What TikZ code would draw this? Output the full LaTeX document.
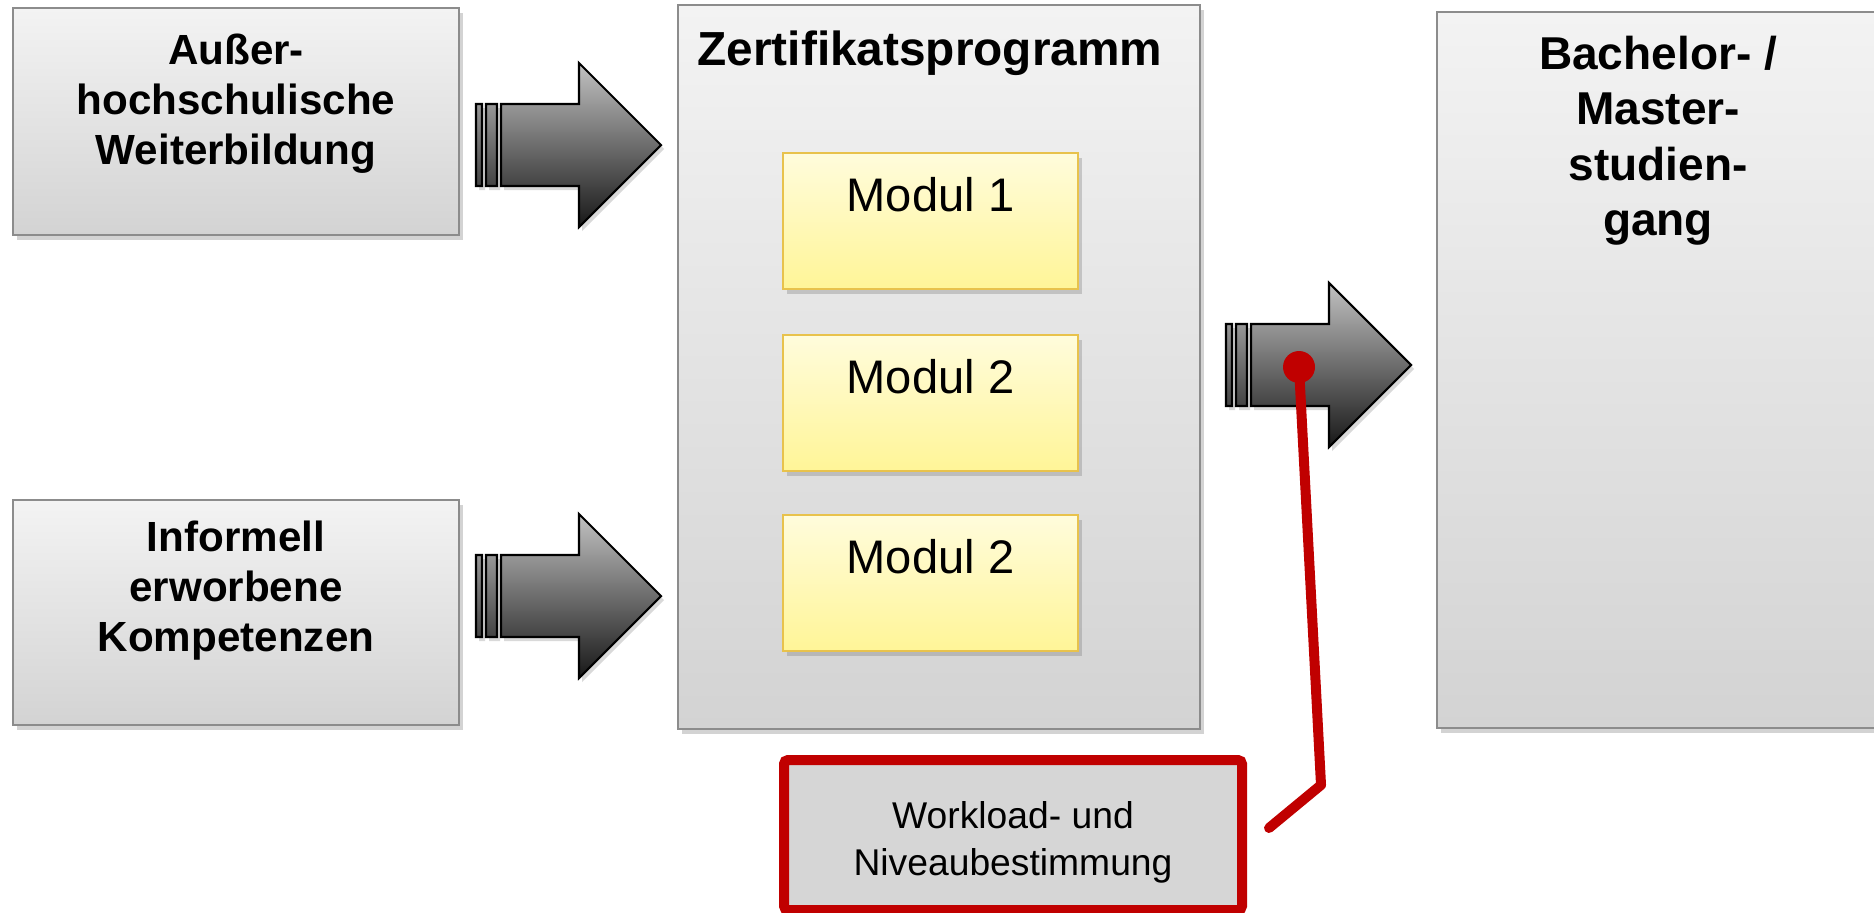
\documentclass[tikz,border=0pt]{standalone}
\usepackage{fontspec}
\setmainfont{Liberation Sans}
\usetikzlibrary{positioning,shadows,calc}

\definecolor{boxrand}{HTML}{8C8C8C}
\definecolor{grauoben}{HTML}{F3F3F3}
\definecolor{grauunten}{HTML}{D3D3D3}
\definecolor{gelboben}{HTML}{FFFCDC}
\definecolor{gelbunten}{HTML}{FFF597}
\definecolor{gelbrand}{HTML}{E8C24C}
\definecolor{pfeilhell}{HTML}{C2C2C2}
\definecolor{pfeildunkel}{HTML}{181818}
\definecolor{dunkelrot}{HTML}{C00000}
\definecolor{workgrau}{HTML}{D6D6D6}

\tikzset{
    schatten/.style={drop shadow={shadow xshift=0.035cm, shadow yshift=-0.045cm, opacity=0.35}},
    graubox/.style={draw=boxrand, line width=0.7pt, top color=grauoben, bottom color=grauunten,
        schatten, anchor=north west, inner sep=0, outer sep=0},
    modulbox/.style={draw=gelbrand, line width=0.8pt, top color=gelboben, bottom color=gelbunten,
        schatten, anchor=north west, inner sep=0, outer sep=0,
        minimum width=2.95cm, minimum height=1.36cm},
    titel/.style={font=\bfseries\fontsize{12}{14.2}\selectfont, align=center, inner sep=0, outer sep=0},
    modultext/.style={font=\fontsize{13.4}{16}\selectfont, inner sep=0, outer sep=0},
    pfeilstil/.style={draw=black, line width=0.6pt, top color=pfeilhell, bottom color=pfeildunkel,
        drop shadow={shadow xshift=0.03cm, shadow yshift=-0.04cm, opacity=0.3}},
    blockpfeil/.pic={
        \shadedraw[pfeilstil] (0,-0.41) rectangle (0.06,0.41)
            (0.10,-0.41) rectangle (0.21,0.41)
            (0.25,-0.41) -- (1.03,-0.41) -- (1.03,-0.82) -- (1.85,0)
            -- (1.03,0.82) -- (1.03,0.41) -- (0.25,0.41) -- cycle;
    }
}

\begin{document}
\begin{tikzpicture}[x=1cm, y=-1cm]
    \useasboundingbox (0,0) rectangle (18.74,9.12);
    \clip (0,0) rectangle (18.74,9.12);

    % Zugangswege links
    \node[graubox, minimum width=4.46cm, minimum height=2.27cm] (aussen) at (0.13,0.08) {};
    \node[titel, below=0.26cm of aussen.north] (aussentext)
        {Außer-\\hochschulische\\Weiterbildung};
    \node[graubox, minimum width=4.46cm, minimum height=2.25cm] (informell) at (0.13,5.00) {};
    \node[titel, below=0.21cm of informell.north] (informelltext)
        {Informell\\erworbene\\Kompetenzen};

    % Zertifikatsprogramm mit Modulen
    \node[graubox, minimum width=5.22cm, minimum height=7.24cm] (zert) at (6.78,0.05) {};
    \node[titel, font=\bfseries\fontsize{13.6}{16}\selectfont, anchor=north west,
        below right=0.26cm and 0.195cm of zert.north west] (zerttext) {Zertifikatsprogramm};
    \node[modulbox] (m1) at (7.83,1.53) {};
    \node[modulbox] (m2) at (7.83,3.35) {};
    \node[modulbox] (m3) at (7.83,5.15) {};
    \node[modultext, below=0.24cm of m1.north] {Modul 1};
    \node[modultext, below=0.24cm of m2.north] {Modul 2};
    \node[modultext, below=0.24cm of m3.north] {Modul 2};

    % Studiengang rechts
    \node[graubox, minimum width=4.42cm, minimum height=7.16cm] (ziel) at (14.37,0.12) {};
    \node[titel, font=\bfseries\fontsize{13.1}{15.8}\selectfont, below=0.24cm of ziel.north] (zieltext)
        {Bachelor- /\\Master-\\studien-\\gang};

    % Blockpfeile
    \pic (p1) at (4.76,1.45) {blockpfeil};
    \pic (p2) at (4.76,5.96) {blockpfeil};
    \pic (p3) at (12.26,3.65) {blockpfeil};

    % Workload
    \node[draw=dunkelrot, line width=0.1cm, fill=workgrau, rounded corners=0.04cm,
        anchor=north west, inner sep=0, outer sep=0,
        minimum width=4.58cm, minimum height=1.50cm] (workload) at (7.84,7.60) {};
    \node[font=\fontsize{10.6}{13.2}\selectfont, align=center, inner sep=0,
        below=0.41cm of workload.north] (worktext) {Workload- und\\Niveaubestimmung};

    % Verbindung
    \node[circle, fill=dunkelrot, minimum size=0.32cm, inner sep=0] (pin) at (12.99,3.67) {};
    \coordinate (knick) at (13.21,7.85);
    \coordinate (ende) at (12.69,8.28);
    \draw[dunkelrot, line width=0.1cm, line cap=round, line join=round]
        (pin.center) -- (knick) -- (ende);
\end{tikzpicture}
\end{document}
